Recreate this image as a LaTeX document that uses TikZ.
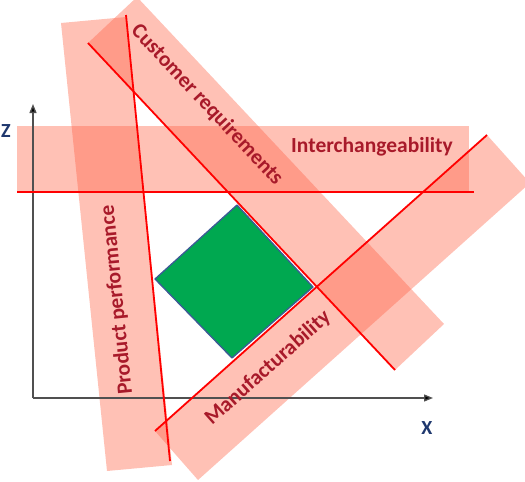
\documentclass[tikz,border=0pt]{standalone}
\usepackage{fontspec}
\setmainfont{Carlito}
\usetikzlibrary{arrows.meta}
\definecolor{bandfill}{RGB}{255,99,71}
\definecolor{lblred}{RGB}{168,26,42}
\definecolor{sqgreen}{RGB}{0,168,80}
\definecolor{sqedge}{RGB}{60,90,150}
\definecolor{axisgray}{RGB}{80,80,80}
\definecolor{axlbl}{RGB}{31,56,110}
\tikzset{
  band/.style={fill=bandfill,fill opacity=0.4,draw=none},
  redline/.style={draw=red,line width=1.8pt},
  bandlbl/.style={text=lblred,font=\fontsize{21.5}{25}\selectfont\bfseries,inner sep=0pt},
  axislbl/.style={text=axlbl,font=\fontsize{20}{24}\selectfont\bfseries,inner sep=0pt},
  axisline/.style={draw=axisgray,line width=1.3pt,-{Triangle[length=9pt,width=7pt,fill=black]}}
}
\begin{document}
\begin{tikzpicture}[x=1pt,y=-1pt]
\useasboundingbox (0,0) rectangle (525,482);
\clip (0,0) rectangle (525,482);
% key points
\coordinate (C1) at (88,43);
\coordinate (C2) at (395,370);
\coordinate (P1) at (126,15);
\coordinate (P2) at (170,461);
\coordinate (I1) at (17,192);
\coordinate (I2) at (474,192);
\coordinate (M1) at (155,431);
\coordinate (M2) at (487,135);
\coordinate (O) at (33,398);
\coordinate (Ztip) at (33,104);
\coordinate (Xtip) at (433,398);
% bands
\fill[band] (C1) -- (C2) -- (444,324) -- (137,-3) -- cycle;
\fill[band] (126,17) -- (172,465) -- (107,471) -- (61,23) -- cycle;
\fill[band] (17,126) rectangle (469,192);
\fill[band] (M1) -- (M2) -- (530,183) -- (198,480) -- cycle;
% axes
\draw[axisline] (O) -- (Ztip);
\draw[axisline] (O) -- (Xtip);
\node[axislbl] (zl) at (6,131) {Z};
\node[axislbl] (xl) at (427,428) {X};
% green square
\filldraw[fill=sqgreen,draw=sqedge,line width=1.3pt,line join=round]
  (237,205) -- (313,287) -- (232,358) -- (155,279) -- cycle;
% red lines
\draw[redline] (C1) -- (C2);
\draw[redline] (P1) -- (P2);
\draw[redline] (I1) -- (I2);
\draw[redline] (M1) -- (M2);
% labels
\node[bandlbl,rotate=-46.8] (cust) at (207,105) {Customer requirements};
\node[bandlbl,rotate=95.6] (prod) at (117,300) {Product performance};
\node[bandlbl] (inter) at (372,147) {Interchangeability};
\node[bandlbl,rotate=41.7] (manu) at (268,368) {Manufacturability};
\end{tikzpicture}
\end{document}
